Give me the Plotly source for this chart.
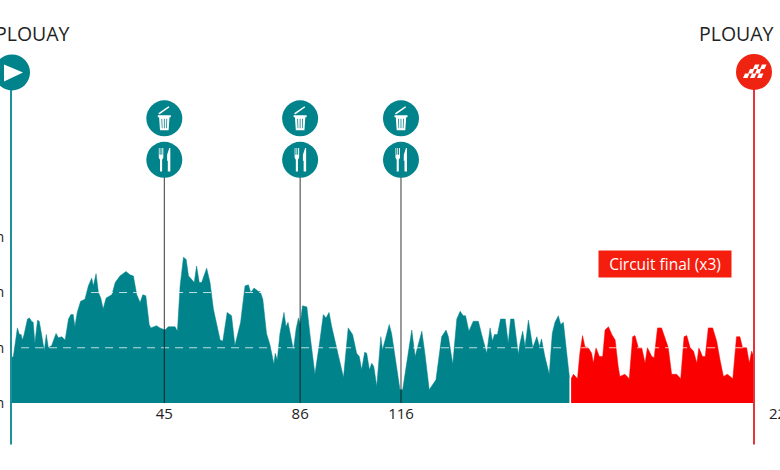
import plotly.graph_objects as go

# profile (km, m)
main_km = [0.0, 0.7, 1.9, 2.5, 3.0, 3.4, 3.9, 4.9, 5.5, 6.1, 6.6, 7.1, 7.9, 8.4, 9.1, 9.9, 10.5, 11.1, 12.1, 13.4,
           14.1, 15.1, 16.1, 17.1, 17.8, 18.5, 19.0, 19.7, 20.7, 22.0, 23.0, 24.0, 24.5, 25.3, 26.0, 26.7, 27.4,
           28.3, 30.0, 31.0, 32.4, 34.2, 35.4, 36.4, 37.4, 38.4, 39.2, 40.1, 41.1, 41.6, 43.3, 44.3, 45.8, 46.8,
           48.8, 49.5, 50.3, 50.8, 51.3, 52.1, 52.8, 53.7, 54.5, 55.2, 56.0, 56.7, 58.2, 59.2, 60.2, 62.2, 63.0,
           64.3, 65.6, 66.6, 68.3, 69.6, 70.6, 71.3, 72.3, 73.6,
           74.1, 74.9, 76.0, 77.0, 78.2, 78.6, 79.2, 80.0, 81.2, 81.8, 82.4, 84.0, 84.8, 85.5, 86.0, 86.7, 88.0,
           89.0, 90.4, 91.9, 92.9, 93.7, 94.6, 95.4, 96.9, 97.9, 98.9, 100.3, 101.6, 102.8, 103.6, 104.3, 105.2,
           105.8, 106.6, 107.3, 107.9, 108.8, 110.0, 110.5, 112.5, 113.2, 114.7, 115.7, 116.5, 117.7, 119.2,
           120.2, 122.2, 123.1, 124.4, 126.4, 128.1, 129.4, 130.1, 131.4, 132.6, 133.6, 134.5, 135.2, 136.2,
           137.5, 139.0, 140.0, 141.5, 142.5, 143.2, 143.8, 144.7, 145.6, 147.0, 147.9, 148.6, 149.6, 150.9,
           151.4, 152.2, 152.9, 153.9, 154.6, 155.2, 156.4, 157.2, 157.8, 158.8, 160.1, 161.0, 161.8, 162.8,
           163.5, 164.3, 165.3, 166.1]
main_alt = [41, 42, 68, 62, 62, 57, 62, 76, 77, 74, 73, 54, 75, 74, 62, 47, 62, 50, 52, 63,
            59, 60, 57, 76, 80, 80, 69, 82, 92, 94, 106, 113, 106, 117, 100, 95, 85,
            95, 98, 109, 115, 119, 116, 115, 98, 91, 98, 97, 71, 68, 70, 68, 66, 69,
            69, 65, 106, 121, 132, 130, 115, 112, 109, 124, 109, 109, 122, 109, 85, 57, 56,
            82, 79, 52, 73, 106, 107, 100, 104, 101,
            101, 94, 63, 53, 35, 45, 39, 63, 82, 69, 73, 48, 67, 77, 71, 88, 87,
            60, 26, 57, 80, 77, 82, 69, 48, 36, 23, 68, 62, 45, 42, 30, 46,
            45, 30, 36, 33, 15, 60, 48, 71, 63, 33, 12, 12, 36, 66,
            42, 65, 45, 12, 21, 60, 66, 60, 35, 76, 83, 79, 79, 65,
            74, 74, 62, 45, 68, 56, 62, 62, 76, 76, 54, 76, 76, 44,
            54, 65, 51, 75, 62, 50, 60, 51, 58, 42, 26, 63, 73, 79,
            71, 73, 45, 23]

circuit_km = [166.6, 167.3, 168.5, 169.2, 170.0, 170.7, 171.7, 172.7, 173.2, 174.0, 175.0, 176.0, 176.7, 177.7,
              178.7, 179.7, 180.6, 181.1, 182.6, 183.9, 184.9, 185.6, 186.6, 187.6, 188.6, 189.3, 190.6, 191.3,
              192.3, 193.5, 194.5, 195.5, 196.5, 198.0, 199.2, 200.2, 201.0, 202.0, 203.0, 204.0, 204.6, 205.7,
              206.5, 207.4, 208.7, 209.9, 210.9, 211.9, 213.1, 214.7, 215.8, 216.8, 217.6, 218.8, 219.6, 220.3,
              221.0]
circuit_alt = [22, 26, 22, 45, 61, 51, 50, 45, 36, 50, 42, 42, 66, 69,
               62, 57, 33, 24, 26, 22, 60, 61, 50, 50, 36, 50, 42, 41,
               68, 68, 59, 50, 26, 26, 22, 60, 61, 50, 47, 36, 50, 42,
               42, 68, 68, 56, 39, 24, 26, 22, 60, 60, 50, 50, 36, 47, 41]

# the 45 marker sits slightly right of a strict km scale in the picture
stop_km = [45.6, 86, 116]
stop_labels = ['45', '86', '116']
end_km = 221
end_label = '221'
alt_ticks = [0, 50, 100, 150]
alt_labels = ['0 m', '50 m', '100 m', '150 m']
grid_alts = [50, 100, 150]

TEAL = '#00838a'
RED = '#fb0000'
FONT = 'Open Sans'
PLOT_H = 403.5  # height of the plot area in px, used to place the icons


def paper_y(py):
    return 1 - py / PLOT_H


def circle(anchor, py, color, r=18, xref='x'):
    return dict(type='circle', xref=xref, yref='paper', xsizemode='pixel', ysizemode='pixel',
                xanchor=anchor, yanchor=paper_y(py), x0=-r, x1=r, y0=-r, y1=r,
                fillcolor=color, line_width=0)


def icon(anchor, py, points, color='white', xref='x'):
    path = 'M' + ' L'.join(f'{x},{y}' for x, y in points) + ' Z'
    return dict(type='path', xref=xref, yref='paper', xsizemode='pixel', ysizemode='pixel',
                xanchor=anchor, yanchor=paper_y(py), path=path, fillcolor=color, line_width=0)


shapes = []

# dashed altitude lines, only show up on the filled area
for alt in grid_alts:
    shapes.append(dict(type='line', xref='x', yref='y', x0=3, x1=end_km, y0=alt, y1=alt,
                       line=dict(color='rgba(255,255,255,0.75)', width=1, dash='8px 6px')))

# start and finish verticals, paper refs so they do not get clipped at the plot edge
shapes.append(dict(type='line', xref='paper', yref='paper', x0=0, x1=0, y0=-0.103, y1=paper_y(72),
                   line=dict(color='#1f8f9a', width=2)))
shapes.append(dict(type='line', xref='paper', yref='paper', x0=1, x1=1, y0=-0.103, y1=paper_y(72),
                   line=dict(color='#e2363c', width=2)))

# feed zones and waste zones
for km in stop_km:
    shapes.append(dict(type='line', xref='x', yref='paper', x0=km, x1=km, y0=0, y1=paper_y(160),
                       line=dict(color='rgba(20,20,20,0.85)', width=1)))
    shapes.append(circle(km, 118.5, TEAL))
    shapes.append(circle(km, 160, TEAL))
    # bin
    shapes.append(icon(km, 118.5, [(-6.5, 3), (6.5, 3), (6.5, 1), (5.2, 1), (4.3, -12), (-4.3, -12),
                                   (-5.2, 1), (-6.5, 1)]))
    shapes.append(icon(km, 118.5, [(-2.9, -0.5), (-2.1, -0.5), (-1.8, -10), (-2.5, -10)], TEAL))
    shapes.append(icon(km, 118.5, [(-0.4, -0.5), (0.4, -0.5), (0.4, -10), (-0.4, -10)], TEAL))
    shapes.append(icon(km, 118.5, [(2.1, -0.5), (2.9, -0.5), (2.5, -10), (1.8, -10)], TEAL))
    shapes.append(icon(km, 118.5, [(-6, 5), (4.2, 12.2), (5.2, 11), (-5, 3.8)]))
    # fork
    shapes.append(icon(km, 160, [(-5.5, 11.7), (-4.7, 11.7), (-4.7, 5), (-3.7, 5), (-3.7, 11.7), (-2.9, 11.7),
                                 (-2.9, 5), (-2, 5), (-2, 11.7), (-1, 11.7), (-1, 2), (-2.2, 0), (-2.2, -11.7),
                                 (-4.3, -11.7), (-4.3, 0), (-5.5, 2)]))
    # knife
    shapes.append(icon(km, 160, [(5, 11.7), (6, 11.7), (6, -11.7), (3.5, -11.7), (3.5, -1), (2.8, -1), (2.8, 5)]))

start_x = 1 / 743
shapes.append(circle(start_x, 72.5, TEAL, xref='paper'))
shapes.append(icon(start_x, 72.5, [(-8, 8), (11, 0), (-8, -9)], xref='paper'))
shapes.append(circle(1, 72, '#ee2311', xref='paper'))
# chequered flag, skewed tiles in three rows
for y_top, starts in [(7.5, [-1, 6]), (3, [-6, 1]), (-1.5, [-11, -4, 3])]:
    for x0 in starts:
        shapes.append(icon(1, 72, [(x0 + 2, y_top), (x0 + 6.5, y_top), (x0 + 4.5, y_top - 4.5), (x0, y_top - 4.5)],
                           xref='paper'))

annotations = [
    dict(text='PLOUAY', xref='x', yref='paper', x=0, xshift=21.5, y=paper_y(34), showarrow=False,
         xanchor='center', yanchor='middle', font=dict(family=FONT, size=19.5, color='#222222')),
    dict(text='PLOUAY', xref='x', yref='paper', x=end_km, xshift=-17.5, y=paper_y(34), showarrow=False,
         xanchor='center', yanchor='middle', font=dict(family=FONT, size=19.5, color='#222222')),
    dict(text=end_label, xref='x', yref='paper', x=end_km, xshift=28, y=paper_y(414), showarrow=False,
         xanchor='center', yanchor='middle', font=dict(family=FONT, size=15, color='#222222')),
    dict(text='Circuit final (x3)', xref='x', yref='paper', x=194.5, y=paper_y(264), showarrow=False,
         xanchor='center', yanchor='middle', width=130, height=24, bgcolor='#f51d0d',
         font=dict(family=FONT, size=15.5, color='white')),
]

fig = go.Figure()
fig.add_trace(go.Scatter(x=main_km, y=main_alt, mode='lines', fill='tozeroy', fillcolor=TEAL,
                         line=dict(color=TEAL, width=0.5), hoverinfo='skip'))
fig.add_trace(go.Scatter(x=circuit_km, y=circuit_alt, mode='lines', fill='tozeroy', fillcolor=RED,
                         line=dict(color=RED, width=0.5), hoverinfo='skip'))

fig.update_layout(
    width=780,
    height=470,
    margin=dict(l=11, r=26, t=0, b=66.5),
    paper_bgcolor='white',
    plot_bgcolor='white',
    showlegend=False,
    shapes=shapes,
    annotations=annotations,
)
fig.update_xaxes(range=[0, end_km], showgrid=False, zeroline=False, showline=False,
                 tickmode='array', tickvals=stop_km, ticktext=stop_labels,
                 ticks='', ticklabelstandoff=0,
                 tickfont=dict(family=FONT, size=15, color='#222222'), automargin=False)
fig.update_yaxes(range=[0, 364.8], showgrid=False, zeroline=False, showline=False,
                 tickmode='array', tickvals=alt_ticks, ticktext=alt_labels,
                 ticks='outside', ticklen=3, tickcolor='rgba(0,0,0,0)', ticklabeloverflow='allow',
                 tickfont=dict(family=FONT, size=14, color='#222222'), automargin=False)

# the page's default body margin would shift the whole figure by 8px
fig.write_html("out.html", config=dict(displayModeBar=False),
               post_script="document.body.style.margin='0';")
